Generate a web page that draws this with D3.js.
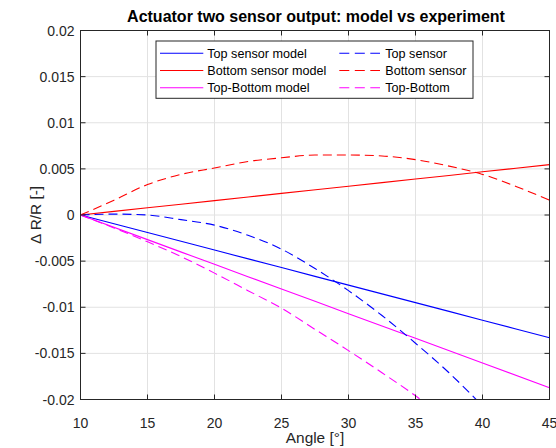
<!DOCTYPE html>
<html>
<head>
<meta charset="utf-8">
<script src="https://cdn.jsdelivr.net/npm/d3@7"></script>
<style>
  body { margin: 0; background: #fff; }
  svg { display: block; font-family: "Liberation Sans", Arial, sans-serif; }
</style>
</head>
<body>
<svg id="chart" width="556" height="448"></svg>
<script>
// angles for the model lines and the measured curves
const modelAngles = [10, 15, 20, 25, 30, 35, 40, 45];
const topModel = [0, -0.0019, -0.0038, -0.0057, -0.0076, -0.0095, -0.0114, -0.0133];
const bottomModel = [0, 0.00078, 0.00156, 0.00234, 0.00312, 0.0039, 0.00468, 0.00546];
const diffModel = [0, -0.00267, -0.00535, -0.00802, -0.0107, -0.01337, -0.01605, -0.01872];

const expAngles = [10, 12.5, 15, 17.5, 20, 22.5, 25, 27.5, 30, 32.5, 35, 37.5, 40, 42.5, 45];
const topSensor = [0, 0.0001, 0.0000, -0.0005, -0.0011, -0.0022, -0.0037, -0.0058, -0.0082, -0.0109, -0.0139, -0.0171, -0.0207];
const bottomSensor = [0, 0.0016, 0.0033, 0.0044, 0.0051, 0.0058, 0.0062, 0.0065, 0.0065, 0.0064, 0.0060, 0.0053, 0.0044, 0.0031, 0.0016];
const diffSensor = [0, -0.0014, -0.0029, -0.0045, -0.0063, -0.0082, -0.0101, -0.0124, -0.0147, -0.0171, -0.0196, -0.0224];

const xTicks = [10, 15, 20, 25, 30, 35, 40, 45];
const yTicks = [-0.02, -0.015, -0.01, -0.005, 0, 0.005, 0.01, 0.015, 0.02];
const yTickLabels = ["-0.02", "-0.015", "-0.01", "-0.005", "0", "0.005", "0.01", "0.015", "0.02"];

const seriesNames = ["Top sensor model", "Bottom sensor model", "Top-Bottom model", "Top sensor", "Bottom sensor", "Top-Bottom"];

const ink = "#262626";
const plotL = 80.5, plotR = 549.5, plotT = 30.5, plotB = 399.5;

const svg = d3.select("#chart");

const x = d3.scaleLinear().domain([10, 45]).range([plotL, plotR]);
const y = d3.scaleLinear().domain([-0.02, 0.02]).range([plotB, plotT]);

// grid
const grid = svg.append("g").attr("stroke", "#e2e2e2").attr("stroke-width", 1);
xTicks.slice(1, -1).forEach(t => {
  grid.append("line").attr("x1", x(t)).attr("x2", x(t)).attr("y1", plotT).attr("y2", plotB);
});
yTicks.slice(1, -1).forEach(t => {
  grid.append("line").attr("x1", plotL).attr("x2", plotR).attr("y1", y(t)).attr("y2", y(t));
});

// lines
svg.append("clipPath").attr("id", "plotclip")
  .append("rect").attr("x", plotL).attr("y", plotT).attr("width", plotR - plotL).attr("height", plotB - plotT);

const series = [
  { xs: modelAngles, ys: topModel, color: "#0000ff", dash: null },
  { xs: modelAngles, ys: bottomModel, color: "#ff0000", dash: null },
  { xs: modelAngles, ys: diffModel, color: "#ff00ff", dash: null },
  { xs: expAngles, ys: topSensor, color: "#0000ff", dash: "9,5" },
  { xs: expAngles, ys: bottomSensor, color: "#ff0000", dash: "9,5" },
  { xs: expAngles, ys: diffSensor, color: "#ff00ff", dash: "9,5" }
];

const line = d3.line()
  .x(d => x(d[0]))
  .y(d => y(d[1]))
  .curve(d3.curveMonotoneX);

const plot = svg.append("g").attr("clip-path", "url(#plotclip)");
series.forEach(s => {
  const pts = s.ys.map((v, i) => [s.xs[i], v]);
  plot.append("path")
    .attr("d", line(pts))
    .attr("fill", "none")
    .attr("stroke", s.color)
    .attr("stroke-width", 1.1)
    .attr("stroke-dasharray", s.dash);
});

// axes box
const axes = svg.append("g").attr("stroke", ink).attr("stroke-width", 1).attr("fill", "none");
axes.append("rect").attr("x", plotL).attr("y", plotT).attr("width", plotR - plotL).attr("height", plotB - plotT);
xTicks.forEach(t => {
  axes.append("line").attr("x1", x(t)).attr("x2", x(t)).attr("y1", plotB).attr("y2", plotB - 5);
  axes.append("line").attr("x1", x(t)).attr("x2", x(t)).attr("y1", plotT).attr("y2", plotT + 5);
});
yTicks.forEach(t => {
  axes.append("line").attr("x1", plotL).attr("x2", plotL + 5).attr("y1", y(t)).attr("y2", y(t));
  axes.append("line").attr("x1", plotR).attr("x2", plotR - 5).attr("y1", y(t)).attr("y2", y(t));
});

// tick labels
svg.append("g").selectAll("text").data(xTicks).join("text")
  .attr("x", d => x(d)).attr("y", 428)
  .attr("text-anchor", "middle").attr("font-size", 14).attr("fill", ink)
  .text(d => d);

svg.append("g").selectAll("text").data(yTicks).join("text")
  .attr("x", plotL - 6).attr("y", d => y(d) + 5)
  .attr("text-anchor", "end").attr("font-size", 14).attr("fill", ink)
  .text((d, i) => yTickLabels[i]);

// labels and title
svg.append("text").attr("x", (plotL + plotR) / 2 + 1).attr("y", 22)
  .attr("text-anchor", "middle").attr("font-size", 16).attr("font-weight", "bold").attr("fill", "#000")
  .text("Actuator two sensor output: model vs experiment");

svg.append("text").attr("x", (plotL + plotR) / 2).attr("y", 443)
  .attr("text-anchor", "middle").attr("font-size", 15.4).attr("fill", ink)
  .text("Angle [°]");

svg.append("text").attr("transform", `translate(41,${(plotT + plotB) / 2}) rotate(-90)`)
  .attr("text-anchor", "middle").attr("font-size", 15.4).attr("fill", ink)
  .text("Δ R/R [-]");

// legend
const legend = svg.append("g");
legend.append("rect")
  .attr("x", 156).attr("y", 41).attr("width", 317).attr("height", 57.3)
  .attr("fill", "#fff").attr("stroke", ink).attr("stroke-width", 1);

const rowY = [53.3, 70.5, 87.7];
const colX = [{ x1: 160, x2: 203.3, tx: 207.3 }, { x1: 339.3, x2: 380, tx: 385.3 }];
series.forEach((s, i) => {
  const col = colX[Math.floor(i / 3)];
  const ry = rowY[i % 3];
  legend.append("line")
    .attr("x1", col.x1).attr("x2", col.x2).attr("y1", ry).attr("y2", ry)
    .attr("stroke", s.color).attr("stroke-width", 1.1)
    .attr("stroke-dasharray", s.dash ? "10,5.5" : null);
  legend.append("text")
    .attr("x", col.tx).attr("y", ry + 4.5)
    .attr("font-size", 12.6).attr("fill", "#000")
    .text(seriesNames[i]);
});
</script>
</body>
</html>
